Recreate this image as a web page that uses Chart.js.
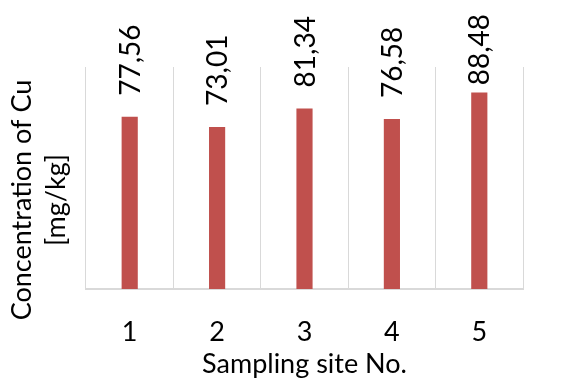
<!DOCTYPE html>
<html>
<head>
<meta charset="utf-8">
<script src="https://cdn.jsdelivr.net/npm/chart.js@4/dist/chart.umd.min.js"></script>
<style>
  html, body { margin: 0; padding: 0; background: #ffffff; }
  #wrap { width: 563px; height: 380px; position: relative; }
</style>
</head>
<body>
<div id="wrap"><canvas id="chart"></canvas></div>
<script>
// Copper concentration per sampling site
const sites = ['1', '2', '3', '4', '5'];
const cuValues = [77.56, 73.01, 81.34, 76.58, 88.48];
const yTitleLines = ['Concentration of Cu', '[mg/kg]'];
const xTitle = 'Sampling site No.';

const FONT = 'Lato, "Open Sans", sans-serif';

// Value labels above each bar, rotated, with a decimal comma;
// a label that would run off the top edge is pushed down to fit.
const valueLabels = {
  id: 'valueLabels',
  afterDatasetsDraw(chart) {
    const ctx = chart.ctx;
    const meta = chart.getDatasetMeta(0);
    ctx.save();
    ctx.fillStyle = '#000000';
    ctx.font = '28px ' + FONT;
    ctx.textAlign = 'left';
    ctx.textBaseline = 'middle';
    meta.data.forEach((bar, i) => {
      const txt = cuValues[i].toFixed(2).replace('.', ',');
      const w = ctx.measureText(txt).width;
      const start = Math.max(bar.y - 21, 14 + w);
      ctx.save();
      ctx.translate(bar.x + 1, start);
      ctx.rotate(-Math.PI / 2);
      ctx.fillText(txt, 0, 0);
      ctx.restore();
    });
    ctx.restore();
  }
};

// Two-line vertical axis title
const yAxisTitle = {
  id: 'yAxisTitle',
  afterDraw(chart) {
    const ctx = chart.ctx;
    ctx.save();
    ctx.fillStyle = '#000000';
    ctx.font = '27px ' + FONT;
    ctx.textAlign = 'center';
    ctx.textBaseline = 'middle';
    ctx.translate(39, 200);
    ctx.rotate(-Math.PI / 2);
    ctx.fillText(yTitleLines[0], 0, -17);
    ctx.fillText(yTitleLines[1], 0, 17);
    ctx.restore();
  }
};

new Chart(document.getElementById('chart'), {
  type: 'bar',
  data: {
    labels: sites,
    datasets: [{
      data: cuValues,
      backgroundColor: '#C0504D',
      borderWidth: 0,
      barPercentage: 1,
      categoryPercentage: 0.185
    }]
  },
  options: {
    responsive: true,
    maintainAspectRatio: false,
    animation: false,
    layout: { padding: { left: 86, right: 40, top: 67, bottom: 0 } },
    plugins: {
      legend: { display: false },
      tooltip: { enabled: false }
    },
    scales: {
      x: {
        afterFit(scale) { scale.height = 91; },
        grid: {
          display: true,
          offset: true,
          color: '#d9d9d9',
          lineWidth: 1,
          drawTicks: false
        },
        border: { display: true, color: '#d9d9d9', width: 2 },
        ticks: {
          color: '#000000',
          font: { family: FONT, size: 27 },
          padding: 27
        },
        title: {
          display: true,
          text: xTitle,
          color: '#000000',
          font: { family: FONT, size: 27 },
          padding: { top: 0, bottom: 0 }
        }
      },
      y: {
        display: false,
        min: 0,
        max: 100
      }
    }
  },
  plugins: [valueLabels, yAxisTitle]
});
</script>
</body>
</html>
